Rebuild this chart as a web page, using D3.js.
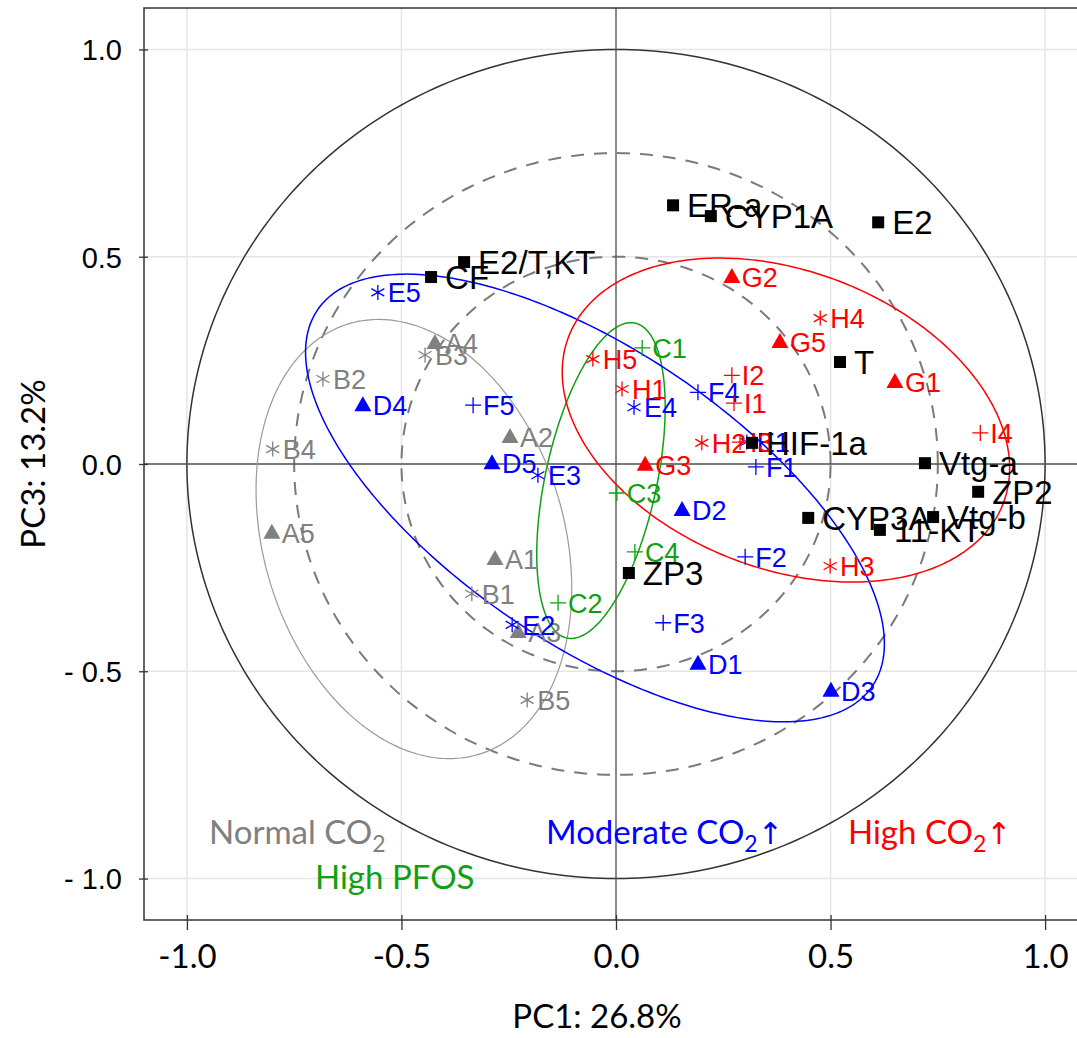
<!DOCTYPE html>
<html>
<head>
<meta charset="utf-8">
<script src="https://cdn.jsdelivr.net/npm/d3@7"></script>
<style>
  body { margin: 0; background: #fff; }
  svg { display: block; }
</style>
</head>
<body>
<svg id="chart" width="1077" height="1038"></svg>
<script>
// ---- data ----
const tickValues = [-1, -0.5, 0, 0.5, 1];
const xTickLabels = ["-1.0", "-0.5", "0.0", "0.5", "1.0"];
const yTickLabels = ["- 1.0", "- 0.5", "0.0", "0.5", "1.0"];

// samples: [label, PC1, PC3, marker]
const normalCO2 = [
  ["A1", -0.282, -0.229, "tri"], ["A2", -0.247, 0.065, "tri"], ["A3", -0.228, -0.405, "tri"],
  ["A4", -0.422, 0.292, "tri"], ["A5", -0.802, -0.166, "tri"],
  ["B1", -0.336, -0.313, "ast"], ["B2", -0.683, 0.205, "ast"], ["B3", -0.445, 0.263, "ast"],
  ["B4", -0.800, 0.036, "ast"], ["B5", -0.207, -0.569, "ast"]
];
const highPFOS = [
  ["C1", 0.061, 0.280, "plus"], ["C2", -0.135, -0.335, "plus"],
  ["C3", 0.002, -0.070, "plus"], ["C4", 0.044, -0.212, "plus"]
];
const moderateCO2 = [
  ["D1", 0.191, -0.482, "tri"], ["D2", 0.154, -0.111, "tri"], ["D3", 0.501, -0.547, "tri"],
  ["D4", -0.590, 0.142, "tri"], ["D5", -0.289, 0.002, "tri"],
  ["E1", 0.305, 0.053, "ast"], ["E2", -0.242, -0.388, "ast"], ["E3", -0.182, -0.027, "ast"],
  ["E4", 0.042, 0.137, "ast"], ["E5", -0.555, 0.414, "ast"],
  ["F1", 0.326, -0.007, "plus"], ["F2", 0.301, -0.224, "plus"], ["F3", 0.110, -0.383, "plus"],
  ["F4", 0.191, 0.173, "plus"], ["F5", -0.333, 0.142, "plus"]
];
const highCO2 = [
  ["G1", 0.650, 0.198, "tri"], ["G2", 0.270, 0.451, "tri"], ["G3", 0.068, -0.002, "tri"],
  ["G5", 0.382, 0.294, "tri"],
  ["H1", 0.014, 0.181, "ast"], ["H2", 0.200, 0.051, "ast"], ["H3", 0.499, -0.246, "ast"],
  ["H4", 0.476, 0.352, "ast"], ["H5", -0.054, 0.253, "ast"],
  ["I1", 0.275, 0.147, "plus"], ["I2", 0.270, 0.214, "plus"], ["I3", 0.289, 0.053, "plus"],
  ["I4", 0.849, 0.075, "plus"]
];

// variable loadings: [label, PC1, PC3]
const variables = [
  ["ER-a", 0.133, 0.624], ["CYP1A", 0.221, 0.598], ["E2", 0.611, 0.583],
  ["E2/T,KT", -0.354, 0.487], ["CF", -0.431, 0.451], ["T", 0.522, 0.246],
  ["HIF-1a", 0.317, 0.051], ["Vtg-a", 0.720, 0.002], ["ZP2", 0.844, -0.067],
  ["Vtg-b", 0.739, -0.128], ["11-KT", 0.615, -0.159], ["CYP3A", 0.448, -0.130],
  ["ZP3", 0.030, -0.263]
];

// group ellipses: [centre PC1, centre PC3, semi-major, semi-minor, angle deg]
const ellipseNormal = [-0.471, -0.181, 0.541, 0.351, 105.5];
const ellipsePFOS = [-0.035, -0.040, 0.388, 0.130, 78.3];
const ellipseModerate = [-0.049, -0.082, 0.790, 0.350, -35.5];
const ellipseHigh = [0.396, 0.106, 0.545, 0.357, -22.7];

const refRadii = [1, 0.75, 0.5];

const groups = [
  { samples: normalCO2, ellipse: ellipseNormal, color: "#808080", ecolor: "#9a9a9a" },
  { samples: highPFOS, ellipse: ellipsePFOS, color: "#10a010", ecolor: "#10a010" },
  { samples: moderateCO2, ellipse: ellipseModerate, color: "#0000ff", ecolor: "#0000ff" },
  { samples: highCO2, ellipse: ellipseHigh, color: "#ff0000", ecolor: "#ff0000" }
];

// ---- chart ----
const svg = d3.select("#chart");
const x = d3.scaleLinear().domain([-1.1, 1.1]).range([144, 1088]);
const y = d3.scaleLinear().domain([-1.1, 1.1]).range([920, 8]);
const [x0, x1] = x.range();
const [y1, y0] = y.range();

svg.append("clipPath").attr("id", "plot-clip")
  .append("rect")
    .attr("x", x0).attr("y", y0)
    .attr("width", x1 - x0).attr("height", y1 - y0);

const plot = svg.append("g").attr("clip-path", "url(#plot-clip)");

// grid
plot.selectAll(".gx").data(tickValues).join("line")
  .attr("x1", d => x(d)).attr("x2", d => x(d))
  .attr("y1", y0).attr("y2", y1)
  .attr("stroke", "#e6e6e6").attr("stroke-width", 1.5);
plot.selectAll(".gy").data(tickValues).join("line")
  .attr("y1", d => y(d)).attr("y2", d => y(d))
  .attr("x1", x0).attr("x2", x1)
  .attr("stroke", "#e6e6e6").attr("stroke-width", 1.5);

function ellipsePoints(cx, cy, a, b, angle) {
  const t = angle * Math.PI / 180;
  return d3.range(0, 361, 1).map(deg => {
    const p = deg * Math.PI / 180;
    const u = a * Math.cos(p), v = b * Math.sin(p);
    return [cx + u * Math.cos(t) - v * Math.sin(t), cy + u * Math.sin(t) + v * Math.cos(t)];
  });
}
const line = d3.line().x(d => x(d[0])).y(d => y(d[1]));

// correlation circles
plot.selectAll(".ref").data(refRadii).join("path")
  .attr("d", r => line(ellipsePoints(0, 0, r, r, 0)))
  .attr("fill", "none")
  .attr("stroke", r => r === 1 ? "#333" : "#7a7a7a")
  .attr("stroke-width", r => r === 1 ? 1.5 : 2)
  .attr("stroke-dasharray", r => r === 1 ? null : "13,10");

// zero lines
plot.append("line").attr("x1", x(0)).attr("x2", x(0)).attr("y1", y0).attr("y2", y1)
  .attr("stroke", "#555").attr("stroke-width", 1.3);
plot.append("line").attr("y1", y(0)).attr("y2", y(0)).attr("x1", x0).attr("x2", x1)
  .attr("stroke", "#555").attr("stroke-width", 1.3);

// ellipses
plot.selectAll(".ell").data(groups).join("path")
  .attr("d", g => line(ellipsePoints(...g.ellipse)))
  .attr("fill", "none")
  .attr("stroke", g => g.ecolor)
  .attr("stroke-width", (g, i) => i === 0 ? 1.2 : 1.5);

const markers = {
  square: "M-6,-6h12v12h-12z",
  tri: "M0,-9L8.5,6L-8.5,6Z",
  plus: "M-8,0H8M0,-8V8",
  ast: "M0,-7.5V7.5M-6.5,-3.75L6.5,3.75M-6.5,3.75L6.5,-3.75"
};
const filled = s => s === "tri" || s === "square";

// sample points + labels
groups.forEach(g => {
  const gg = plot.append("g");
  gg.selectAll("path").data(g.samples).join("path")
    .attr("transform", d => `translate(${x(d[1])},${y(d[2])})`)
    .attr("d", d => markers[d[3]])
    .attr("fill", d => filled(d[3]) ? g.color : "none")
    .attr("stroke", d => filled(d[3]) ? "none" : g.color)
    .attr("stroke-width", 1.3);
  gg.selectAll("text").data(g.samples).join("text")
    .attr("x", d => x(d[1]) + 10)
    .attr("y", d => y(d[2]) + 10)
    .attr("fill", g.color)
    .attr("font-family", "Liberation Sans, Arial, sans-serif")
    .attr("font-size", 27)
    .text(d => d[0]);
});

// variables
const vg = plot.append("g");
vg.selectAll("path").data(variables).join("path")
  .attr("transform", d => `translate(${x(d[1])},${y(d[2])})`)
  .attr("d", markers.square)
  .attr("fill", "#000");
vg.selectAll("text").data(variables).join("text")
  .attr("x", d => x(d[1]) + 14)
  .attr("y", d => y(d[2]) + 12)
  .attr("fill", "#000")
  .attr("font-family", "Liberation Sans, Arial, sans-serif")
  .attr("font-size", 33)
  .text(d => d[0]);

// legend text
const legend = [
  ["Normal CO", "2", "", "#808080", 209, 844],
  ["High PFOS", "", "", "#10a010", 315, 889],
  ["Moderate CO", "2", "\u2191", "#0000ff", 546, 844],
  ["High CO", "2", "\u2191", "#ff0000", 848, 844]
];
legend.forEach(([t, sub, arrow, c, lx, ly]) => {
  const tx = plot.append("text").attr("x", lx).attr("y", ly).attr("fill", c)
    .attr("font-family", "Lato, sans-serif").attr("font-size", 33);
  tx.append("tspan").text(t);
  if (sub) tx.append("tspan").attr("font-size", 23).attr("dy", 8).text(sub);
  if (arrow) tx.append("tspan").attr("dy", sub ? -8 : 0).attr("font-family", "DejaVu Sans").attr("font-size", 30).text(arrow);
});

// frame
svg.append("rect")
  .attr("x", x0).attr("y", y0).attr("width", x1 - x0).attr("height", y1 - y0)
  .attr("fill", "none").attr("stroke", "#333").attr("stroke-width", 1.5);

// axes
const yAxis = svg.append("g").attr("transform", `translate(${x0},0)`)
  .call(d3.axisLeft(y).tickValues(tickValues).tickFormat((d, i) => yTickLabels[i])
    .tickSize(5).tickPadding(17));
yAxis.select(".domain").remove();
yAxis.selectAll(".tick line").attr("x1", 4).attr("stroke", "#333").attr("stroke-width", 1.3);
yAxis.selectAll("text").attr("font-family", "Liberation Sans, Arial, sans-serif")
  .attr("font-size", 29).attr("fill", "#000").attr("dy", "0.36em");

const xAxis = svg.append("g").attr("transform", `translate(0,${y1})`)
  .call(d3.axisBottom(x).tickValues(tickValues).tickFormat((d, i) => xTickLabels[i])
    .tickSize(10).tickPadding(8));
xAxis.select(".domain").remove();
xAxis.selectAll(".tick line").attr("y1", -5).attr("stroke", "#333").attr("stroke-width", 1.3);
xAxis.selectAll("text").attr("font-family", "Lato, sans-serif")
  .attr("font-size", 33).attr("fill", "#000").attr("dy", "0.9em");

svg.append("text")
  .attr("x", 597).attr("y", 1028)
  .attr("text-anchor", "middle")
  .attr("font-family", "Lato, sans-serif").attr("font-size", 33)
  .text("PC1: 26.8%");

svg.append("text")
  .attr("transform", `translate(45,${y(0)}) rotate(-90)`)
  .attr("text-anchor", "middle")
  .attr("font-family", "Lato, sans-serif").attr("font-size", 33)
  .text("PC3: 13.2%");
</script>
</body>
</html>
